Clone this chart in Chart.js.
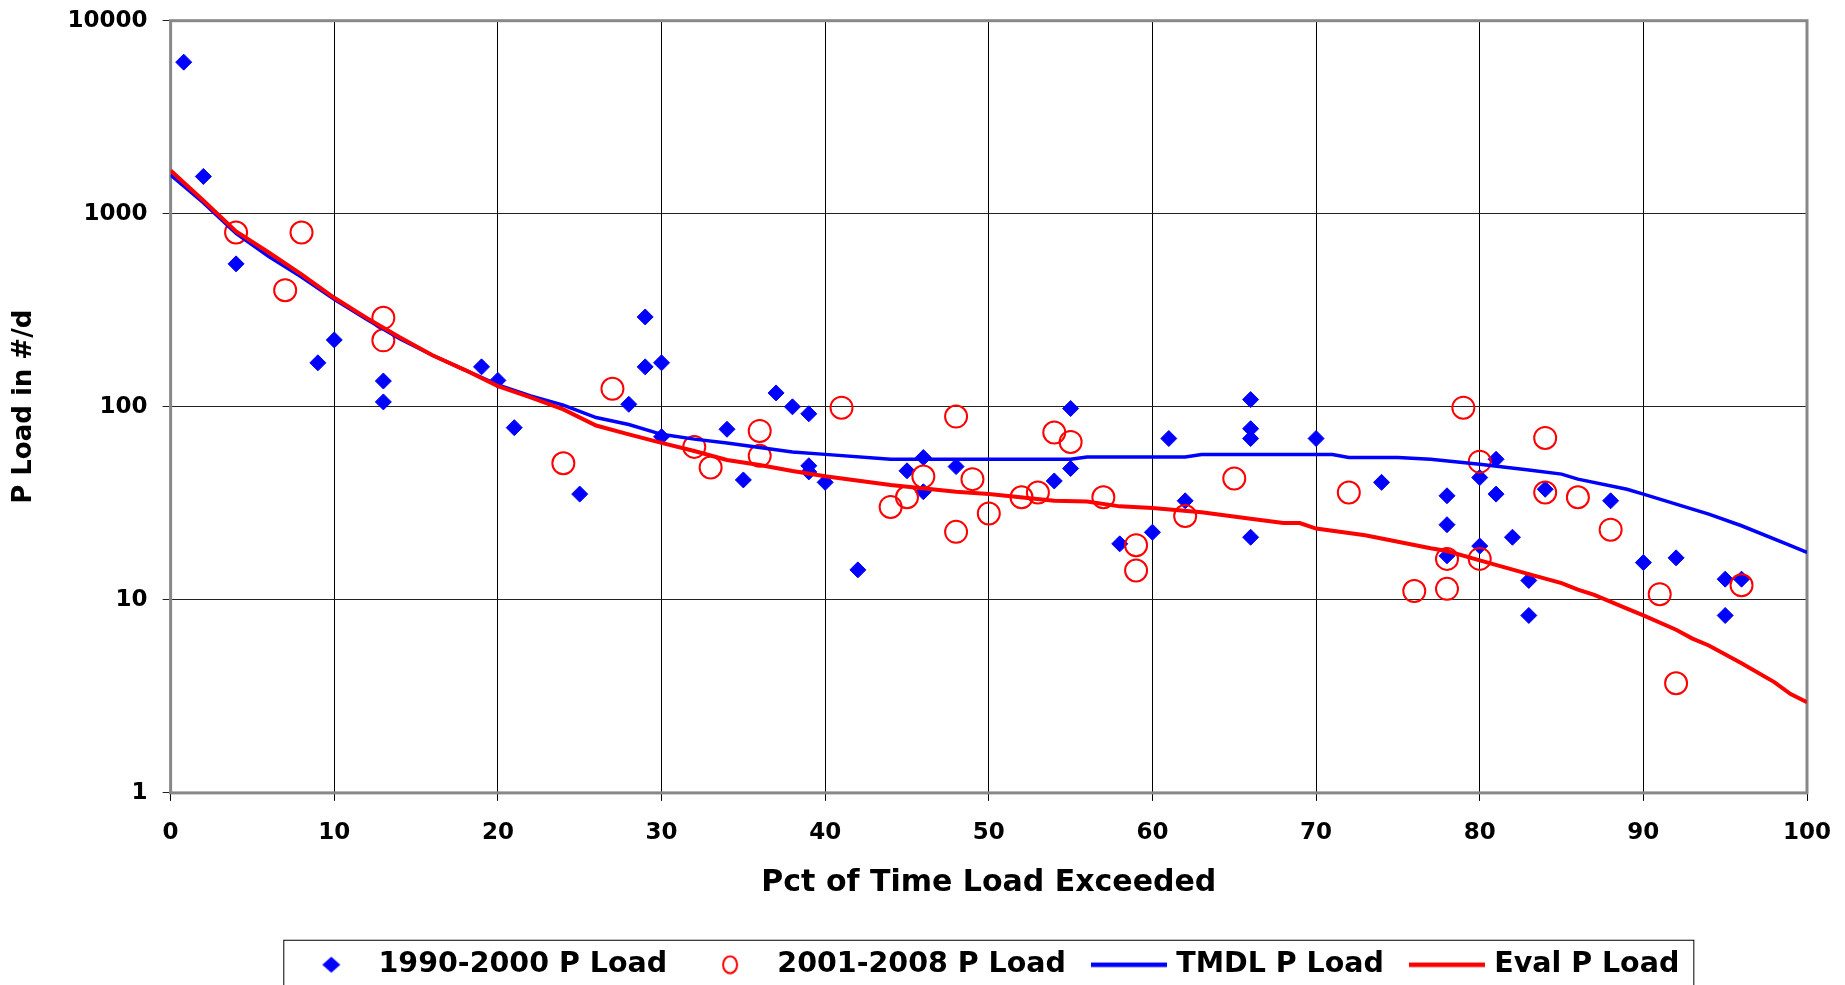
<!DOCTYPE html>
<html lang="en">
<head>
<meta charset="UTF-8">
<title>P Load Duration Curve</title>
<script src="https://cdn.jsdelivr.net/npm/chart.js"></script>
<style>
  html, body { margin: 0; padding: 0; background: #fff; }
  #wrap { width: 1845px; height: 985px; }
</style>
</head>
<body>
<div id="wrap"><canvas id="chartCanvas" width="1845" height="985"></canvas></div>
<script>
// 1990-2000 P Load (blue diamonds)
var oldX = [0.8, 2, 4, 9, 10, 13, 13, 19, 20, 21, 25, 28, 29, 29, 30, 30, 34, 35, 37, 38,
            39, 39, 39, 40, 42, 45, 46, 46, 48, 54, 55, 55, 58, 60, 61, 62, 66, 66, 66, 66,
            70, 74, 78, 78, 78, 80, 80, 81, 81, 82, 83, 83, 84, 88, 90, 92, 95, 95, 96];
var oldY = [6100, 1560, 550, 169, 222, 136, 106, 161, 137, 78, 35.3, 103, 292, 161, 169, 70, 76.5, 41.8, 118, 100,
            92, 49.5, 46, 40.6, 14.3, 46.6, 54.6, 36.3, 49, 41.3, 98, 47.9, 19.5, 22.4, 68.5, 32.6, 109, 77, 68.5, 21.1,
            68.5, 40.6, 34.6, 24.5, 16.9, 43, 19, 53.5, 35.3, 21.1, 12.6, 8.3, 37.4, 32.6, 15.6, 16.5, 12.8, 8.3, 12.8];

// 2001-2008 P Load (red circles)
var newX = [4, 8, 7, 13, 13, 24, 27, 32, 33, 36, 36, 41, 44, 45, 46, 48, 48, 49, 50, 52,
            53, 54, 55, 57, 59, 59, 62, 65, 72, 76, 78, 78, 79, 80, 80, 84, 84, 86, 88, 91, 92, 96];
var newY = [800, 800, 402, 289, 221, 51, 124, 62, 48.5, 75, 55.7, 99, 30.3, 34, 43.5, 89, 22.5, 42.2, 28, 34,
            36, 73.6, 65.8, 34, 19.2, 14.2, 27.2, 42.5, 36, 11.1, 16.3, 11.4, 99, 52, 16.3, 69, 36, 34, 23.1, 10.7, 3.7, 11.9];

// TMDL P Load curve
var tmdlX = [0, 2, 4, 6, 8, 10, 12, 14, 16, 18, 20, 22, 24, 26, 28, 30, 32, 34, 36, 38,
             40, 44, 48, 55, 56, 62, 63, 71, 72, 75, 77, 80, 83, 85, 86, 89, 90, 93, 94, 96, 99, 100];
var tmdlY = [1590, 1140, 790, 600, 470, 360, 283, 225, 185, 155, 130, 114, 102, 88, 81, 72, 68, 65, 61.5, 58.3,
             56.7, 53.5, 53.5, 53.5, 55, 55, 56.6, 56.6, 54.6, 54.6, 53.5, 50.4, 47, 44.8, 42.2, 37.4, 35.3, 29.5, 27.8, 24.2, 19.1, 17.6];

// Eval P Load curve
var evalX = [0, 2, 4, 6, 8, 10, 12, 14, 16, 18, 20, 22, 24, 26, 28, 30, 32, 34, 36, 38,
             40, 44, 48, 50, 54, 56, 58, 60, 63, 66, 68, 69, 70, 73, 75, 77, 78, 80, 83, 85,
             86, 87, 89, 90, 92, 93, 94, 96, 98, 99, 100];
var evalY = [1675, 1170, 810, 630, 485, 367, 288, 229, 185, 155, 128, 112, 97, 80, 72, 65, 59, 53, 50, 46.5,
             43.7, 39.3, 36.3, 35.3, 32.6, 32.3, 30.5, 29.9, 28.4, 26.3, 25, 25, 23.4, 21.6, 20, 18.5, 17.9, 16, 13.6, 12.2,
             11.3, 10.6, 9.0, 8.3, 7.0, 6.3, 5.8, 4.7, 3.75, 3.25, 2.95];

var yTicks = [1, 10, 100, 1000, 10000];

var FONT = "'DejaVu Sans', Arial, sans-serif";

function toPoints(xs, ys) {
    return xs.map(function (x, i) { return { x: x, y: ys[i] }; });
}

// small canvases used as legend symbols
function makeMarker(kind, color) {
    var c = document.createElement('canvas');
    var g;
    if (kind === 'line') {
        c.width = 76; c.height = 6;
        g = c.getContext('2d');
        g.strokeStyle = color; g.lineWidth = 4.5;
        g.beginPath(); g.moveTo(0, 3); g.lineTo(76, 3); g.stroke();
    } else if (kind === 'diamond') {
        c.width = 20; c.height = 18;
        g = c.getContext('2d');
        g.fillStyle = color;
        g.beginPath(); g.moveTo(10, 1); g.lineTo(19, 9); g.lineTo(10, 17); g.lineTo(1, 9); g.closePath(); g.fill();
    } else {
        c.width = 18; c.height = 20;
        g = c.getContext('2d');
        g.strokeStyle = color; g.lineWidth = 2;
        g.beginPath(); g.ellipse(9, 10, 7, 8.5, 0, 0, Math.PI * 2); g.stroke();
    }
    return c;
}
var legendMarkers = [
    makeMarker('diamond', '#0000FF'),
    makeMarker('circle', '#FF0000'),
    makeMarker('line', '#0000FF'),
    makeMarker('line', '#FF0000')
];

// grey plot frame + box around the legend
var framePlugin = {
    id: 'frame',
    beforeDatasetsDraw: function (chart) {
        var a = chart.chartArea, ctx = chart.ctx;
        ctx.save();
        ctx.strokeStyle = '#888';
        ctx.lineWidth = 3;
        ctx.strokeRect(a.left, a.top, a.right - a.left, a.bottom - a.top);
        ctx.restore();
    },
    afterDraw: function (chart) {
        var boxes = chart.legend.legendHitBoxes;
        if (!boxes || !boxes.length) return;
        var first = boxes[0], last = boxes[boxes.length - 1];
        var mid = first.top + first.height / 2;
        var left = first.left - 15, right = last.left + last.width + 14;
        var ctx = chart.ctx;
        ctx.save();
        ctx.strokeStyle = '#000';
        ctx.lineWidth = 1;
        ctx.strokeRect(left + 0.5, mid - 25 + 0.5, right - left, 60);
        ctx.restore();
    }
};

var ctx = document.getElementById('chartCanvas').getContext('2d');
new Chart(ctx, {
    type: 'scatter',
    data: {
        datasets: [{
            label: '1990-2000 P Load',
            data: toPoints(oldX, oldY),
            pointStyle: 'rectRot',
            pointRadius: 8,
            pointBackgroundColor: '#0000FF',
            pointBorderColor: '#0000FF',
            pointBorderWidth: 1,
            backgroundColor: '#0000FF',
            borderColor: '#0000FF',
            order: 3
        }, {
            label: '2001-2008 P Load',
            data: toPoints(newX, newY),
            pointStyle: 'circle',
            pointRadius: 11,
            pointBackgroundColor: 'rgba(0,0,0,0)',
            pointBorderColor: '#FF0000',
            pointBorderWidth: 2,
            backgroundColor: 'rgba(0,0,0,0)',
            borderColor: '#FF0000',
            order: 2
        }, {
            label: 'TMDL P Load',
            data: toPoints(tmdlX, tmdlY),
            showLine: true,
            borderColor: '#0000FF',
            backgroundColor: '#0000FF',
            borderWidth: 3.5,
            pointRadius: 0,
            pointHoverRadius: 0,
            tension: 0,
            order: 1
        }, {
            label: 'Eval P Load',
            data: toPoints(evalX, evalY),
            showLine: true,
            borderColor: '#FF0000',
            backgroundColor: '#FF0000',
            borderWidth: 4,
            pointRadius: 0,
            pointHoverRadius: 0,
            tension: 0,
            order: 0
        }]
    },
    options: {
        responsive: false,
        animation: false,
        events: [],
        layout: { padding: { left: 8.4, right: 38, top: 20.7, bottom: -4 } },
        plugins: {
            tooltip: { enabled: false },
            legend: {
                position: 'bottom',
                fullSize: false,
                labels: {
                    usePointStyle: true,
                    pointStyleWidth: 66,
                    boxHeight: 11,
                    padding: 30,
                    color: '#000',
                    font: { family: FONT, size: 28.5, weight: 'bold' },
                    sort: function (a, b) { return a.datasetIndex - b.datasetIndex; },
                    generateLabels: function (chart) {
                        var items = Chart.defaults.plugins.legend.labels.generateLabels(chart);
                        items.forEach(function (item) { item.pointStyle = legendMarkers[item.datasetIndex]; });
                        return items;
                    }
                }
            }
        },
        scales: {
            x: {
                type: 'linear',
                min: 0,
                max: 100,
                afterFit: function (scale) {
                    scale.paddingLeft = 0;
                    scale.paddingRight = 0;
                },
                ticks: {
                    stepSize: 10,
                    padding: 18.5,
                    maxRotation: 0,
                    color: '#000',
                    font: { family: FONT, size: 23, weight: 'bold' }
                },
                grid: { color: '#000', lineWidth: 1, tickLength: 8 },
                border: { display: false },
                title: {
                    display: true,
                    text: 'Pct of Time Load Exceeded',
                    color: '#000',
                    font: { family: FONT, size: 30, weight: 'bold' },
                    padding: { top: 0, bottom: 19 }
                }
            },
            y: {
                type: 'logarithmic',
                min: 1,
                max: 10000,
                afterBuildTicks: function (scale) {
                    scale.ticks = yTicks.map(function (v) { return { value: v }; });
                },
                afterFit: function (scale) {
                    // let the layout padding alone decide where the plot top sits
                    scale.paddingTop = 0;
                    scale.paddingBottom = 0;
                },
                ticks: {
                    padding: 15,
                    color: '#000',
                    font: { family: FONT, size: 23, weight: 'bold' },
                    callback: function (value) { return String(value); }
                },
                grid: { color: '#222', lineWidth: 1, tickLength: 8 },
                border: { display: false },
                title: {
                    display: true,
                    text: 'P Load in #/d',
                    color: '#000',
                    font: { family: FONT, size: 26, weight: 'bold' },
                    padding: { top: 0, bottom: 13 }
                }
            }
        }
    },
    plugins: [framePlugin]
});
</script>
</body>
</html>
